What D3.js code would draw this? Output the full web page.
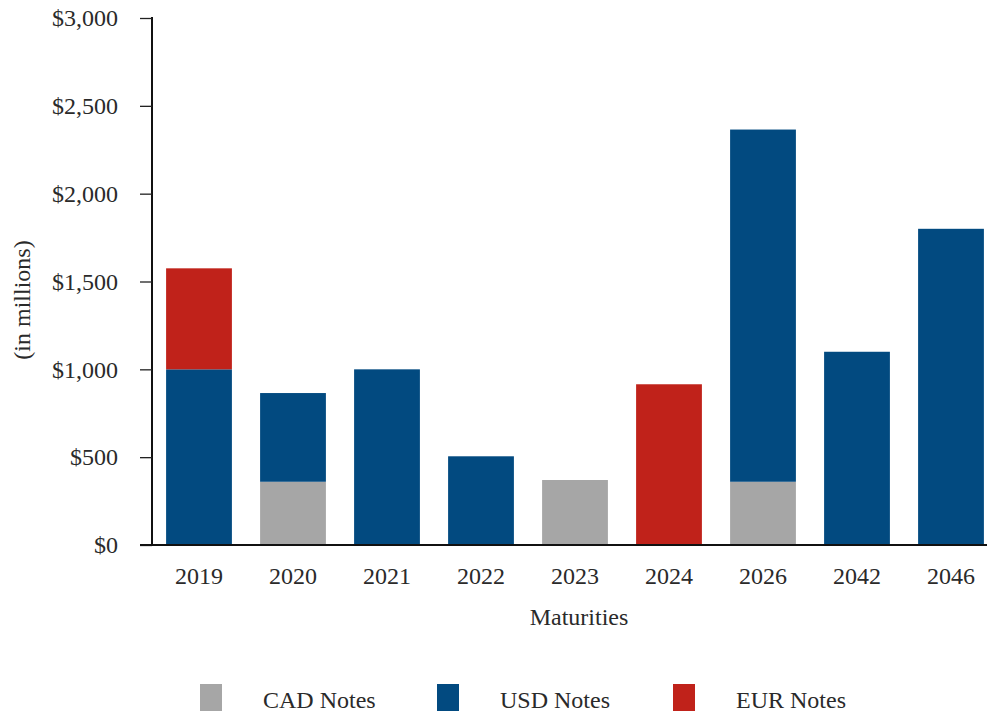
<!DOCTYPE html>
<html><head><meta charset="utf-8">
<script src="https://cdn.jsdelivr.net/npm/d3@7/dist/d3.min.js"></script>
<style>body{margin:0;background:#fff;} svg{display:block;} svg text{font-family:"Liberation Serif","Times New Roman",Times,Tinos,"DejaVu Serif",serif !important;}</style>
</head><body>
<script>
const categories = ["2019","2020","2021","2022","2023","2024","2026","2042","2046"];
const seriesNames = ["CAD Notes","USD Notes","EUR Notes"];
const cadValues = [0, 360, 0, 0, 370, 0, 360, 0, 0];
const usdValues = [1000, 505, 1000, 505, 0, 0, 2005, 1100, 1800];
const eurValues = [575, 0, 0, 0, 0, 915, 0, 0, 0];
const yTicks = [0, 500, 1000, 1500, 2000, 2500, 3000];
const colors = ["#a6a6a6", "#024a80", "#c0221a"];

const W = 987, H = 713;
const FS = 24;
const svg = d3.select("body").append("svg").attr("width", W).attr("height", H);

const rows = categories.map((c, i) => ({cat: c, "CAD Notes": cadValues[i], "USD Notes": usdValues[i], "EUR Notes": eurValues[i]}));
const stacked = d3.stack().keys(seriesNames)(rows);

const x = d3.scaleBand().domain(categories).range([152, 152 + 9 * 94]).paddingInner(0.3).paddingOuter(0.15);
const y = d3.scaleLinear().domain([0, 3000]).range([545, 18]);
const color = d3.scaleOrdinal().domain(seriesNames).range(colors);

// bars
svg.append("g").selectAll("g").data(stacked).join("g")
  .attr("fill", d => color(d.key))
  .selectAll("rect").data(d => d.filter(p => p[1] - p[0] > 0)).join("rect")
  .attr("x", d => x(d.data.cat))
  .attr("width", x.bandwidth())
  .attr("y", d => y(d[1]))
  .attr("height", d => y(d[0]) - y(d[1]));

// y axis
const yAxis = d3.axisLeft(y).tickValues(yTicks).tickSize(12).tickPadding(22)
  .tickFormat(d => "$" + d3.format(",")(d));
const gy = svg.append("g").attr("transform", "translate(152,0)").call(yAxis);
gy.select(".domain").attr("stroke", "#111").attr("stroke-width", 2).attr("d", "M0,17V546");
gy.selectAll(".tick line").attr("stroke", "#222").attr("stroke-width", 1.3);
gy.selectAll(".tick text").attr("font-size", FS).attr("fill", "#2a2a2a");

// x axis
const xAxis = d3.axisBottom(x).tickSize(0).tickPadding(22);
const gx = svg.append("g").attr("transform", "translate(0,545)").call(xAxis);
gx.select(".domain").attr("stroke", "#111").attr("stroke-width", 2).attr("d", "M140,0H987");
gx.selectAll(".tick text").attr("font-size", FS).attr("fill", "#2a2a2a");

// axis titles
svg.append("text").attr("x", 579).attr("y", 625).attr("text-anchor", "middle")
  .attr("font-size", FS).attr("fill", "#2a2a2a").text("Maturities");
svg.append("text").attr("transform", "translate(30,300) rotate(-90)").attr("text-anchor", "middle")
  .attr("font-size", FS).attr("fill", "#2a2a2a").text("(in millions)");

// legend
const legendX = [200, 437, 673];
const lg = svg.append("g").selectAll("g").data(seriesNames).join("g")
  .attr("transform", (d, i) => `translate(${legendX[i]},0)`);
lg.append("rect").attr("x", 0).attr("y", 684).attr("width", 22).attr("height", 27).attr("fill", d => color(d));
lg.append("text").attr("x", 63).attr("y", 708).attr("font-size", FS).attr("fill", "#2a2a2a").text(d => d);
</script>
</body></html>
